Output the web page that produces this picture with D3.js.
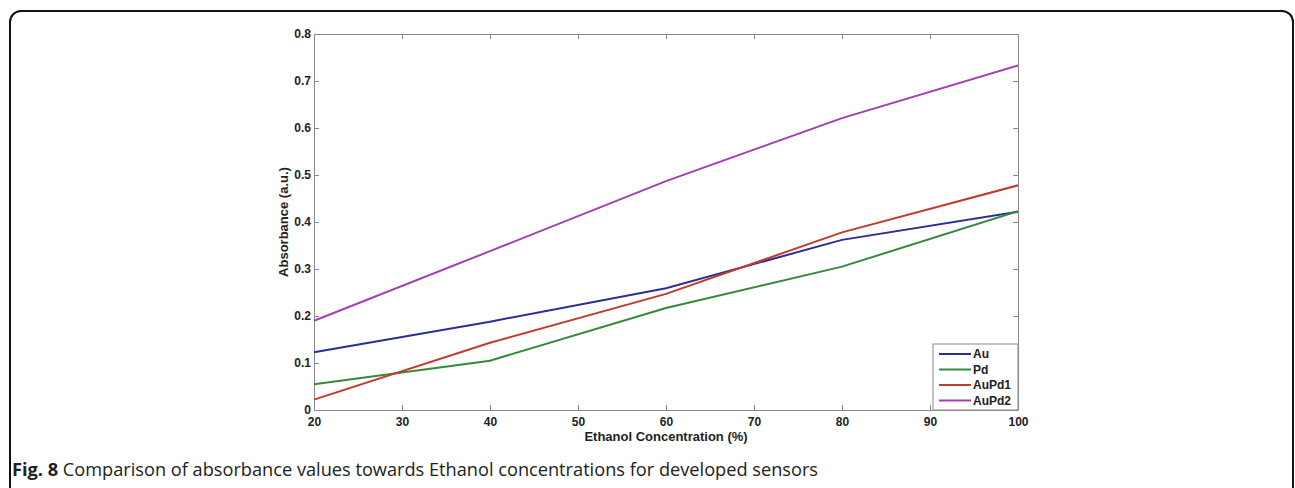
<!DOCTYPE html>
<meta charset="utf-8">
<style>
    body { margin: 0; background: #fff; }
    .tick text { font: bold 12px Arial, "Liberation Sans", sans-serif; fill: #222; }
    .axis path, .axis line { stroke: #8a8a8a; }
    .label { font: bold 13px Arial, "Liberation Sans", sans-serif; fill: #222; }
    .legend text { font: bold 12px Arial, "Liberation Sans", sans-serif; fill: #222; }
    .caption { font: 18px "Open Sans", sans-serif; fill: #222; }
</style>
<svg width="1295" height="488"></svg>
<script src="https://d3js.org/d3.v7.min.js"></script>
<script>
    var concentration = [20, 40, 60, 80, 100];
    var au = [0.123, 0.188, 0.259, 0.362, 0.422];
    var pd = [0.055, 0.105, 0.217, 0.305, 0.423];
    var aupd1 = [0.022, 0.143, 0.247, 0.378, 0.478];
    var aupd2 = [0.19, 0.338, 0.487, 0.621, 0.733];
    var seriesNames = ["Au", "Pd", "AuPd1", "AuPd2"];
    var xTicks = [20, 30, 40, 50, 60, 70, 80, 90, 100];
    var yTicks = [0, 0.1, 0.2, 0.3, 0.4, 0.5, 0.6, 0.7, 0.8];

    var svg = d3.select("svg");
    var colors = ["#2b2e98", "#358a3a", "#c23a2e", "#a23fb4"];
    var series = [au, pd, aupd1, aupd2];

    // figure frame
    svg.append("rect")
        .attr("x", 10).attr("y", 11)
        .attr("width", 1283).attr("height", 520)
        .attr("rx", 11)
        .attr("fill", "none")
        .attr("stroke", "#111")
        .attr("stroke-width", 2);

    var plotL = 314, plotR = 1018, plotT = 34, plotB = 410;
    var x = d3.scaleLinear().domain([20, 100]).range([plotL, plotR]);
    var y = d3.scaleLinear().domain([0, 0.8]).range([plotB, plotT]);

    var fmt = function(d) { return d === 0 ? "0" : d3.format(".1f")(d); };

    svg.append("g").attr("class", "axis")
        .attr("transform", "translate(0," + plotB + ")")
        .call(d3.axisBottom(x).tickValues(xTicks).tickSize(-5).tickPadding(7).tickSizeOuter(0));
    svg.append("g").attr("class", "axis")
        .attr("transform", "translate(0," + plotT + ")")
        .call(d3.axisTop(x).tickValues(xTicks).tickSize(-5).tickFormat("").tickSizeOuter(0));
    svg.append("g").attr("class", "axis")
        .attr("transform", "translate(" + plotL + ",0)")
        .call(d3.axisLeft(y).tickValues(yTicks).tickSize(-5).tickPadding(3).tickFormat(fmt).tickSizeOuter(0));
    svg.append("g").attr("class", "axis")
        .attr("transform", "translate(" + plotR + ",0)")
        .call(d3.axisRight(y).tickValues(yTicks).tickSize(-5).tickFormat("").tickSizeOuter(0));

    var line = d3.line()
        .x(function(d, i) { return x(concentration[i]); })
        .y(function(d) { return y(d); });

    series.forEach(function(s, i) {
        svg.append("path")
            .attr("d", line(s))
            .attr("fill", "none")
            .attr("stroke", colors[i])
            .attr("stroke-width", 2);
    });

    svg.append("text").attr("class", "label")
        .attr("x", (plotL + plotR) / 2).attr("y", 441)
        .attr("text-anchor", "middle")
        .text("Ethanol Concentration (%)");
    svg.append("text").attr("class", "label")
        .attr("transform", "translate(288," + (plotT + plotB) / 2 + ") rotate(-90)")
        .attr("text-anchor", "middle")
        .text("Absorbance (a.u.)");

    // legend
    var lg = svg.append("g").attr("class", "legend");
    lg.append("rect")
        .attr("x", 933).attr("y", 344)
        .attr("width", 85).attr("height", 66)
        .attr("fill", "#fff")
        .attr("stroke", "#8a8a8a");
    seriesNames.forEach(function(n, i) {
        var yy = 354 + i * 15.5;
        lg.append("line")
            .attr("x1", 939).attr("x2", 971)
            .attr("y1", yy).attr("y2", yy)
            .attr("stroke", colors[i]).attr("stroke-width", 2);
        lg.append("text")
            .attr("x", 973).attr("y", yy + 4)
            .text(n);
    });

    var cap = svg.append("text").attr("class", "caption")
        .attr("x", 12).attr("y", 476)
        .attr("textLength", 806)
        .attr("lengthAdjust", "spacingAndGlyphs");
    cap.append("tspan").attr("font-weight", "bold").text("Fig. 8");
    cap.append("tspan").text(" Comparison of absorbance values towards Ethanol concentrations for developed sensors");
</script>
